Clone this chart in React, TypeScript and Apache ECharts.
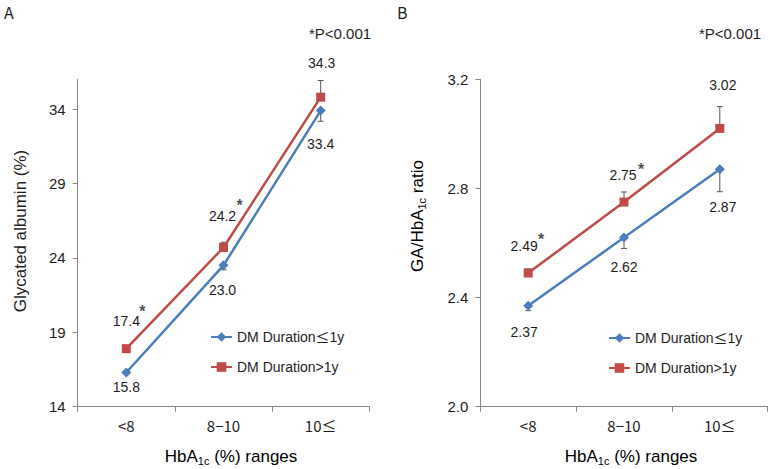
import React, { useEffect, useRef } from "react";
import * as echarts from "echarts";

const categories = ["<8", "8\u221210", "10\u2264"];
const seriesNames = ["DM Duration\u22641y", "DM Duration>1y"];

// Panel A: glycated albumin (%)
const gaShort = [15.8, 23.0, 33.4];
const gaLong = [17.4, 24.2, 34.3];
const gaShortErr = [0.1, 0.3, 0.72];
const gaLongErr = [0.1, 0.35, 1.12];
const gaStars = [true, true, false];
const gaTicks = [13.5, 18.5, 23.5, 28.5, 33.5];

// Panel B: GA/HbA1c ratio
const ratioShort = [2.37, 2.62, 2.87];
const ratioLong = [2.49, 2.75, 3.02];
const ratioShortErr = [0.018, 0.04, 0.082];
const ratioLongErr = [0.015, 0.037, 0.08];
const ratioStars = [true, true, false];

// label placement (layout only)
const offA_short = [[0, 15], [-1, 25], [0, 33]];
const offA_long = [[0, -28], [-1, -31], [1, -34]];
const offB_short = [[-4, 26], [0, 29], [3, 38]];
const offB_long = [[-4, -27], [-1, -27], [3, -43]];
const starOffA = [[16, -37], [16, -42], [0, 0]];
const starOffB = [[13, -34], [17, -33], [0, 0]];

const BLUE = "#4A7EBB";
const RED = "#BE4B48";
const AXIS = "#868686";
const TXT = "#1e1e1e";
const FONT = "'Liberation Sans', Arial, sans-serif";
const KFONT = "'Noto Sans CJK KR', sans-serif";

export default function App() {
  const ref = useRef<HTMLDivElement>(null);
  useEffect(() => {
    const chart = echarts.init(ref.current!, null, { renderer: "svg" });

    const mkLine = (
      name: string,
      vals: number[],
      offs: number[][],
      gi: number,
      color: string,
      symbol: string,
      size: number,
      digits: number
    ) => ({
      type: "line",
      name,
      xAxisIndex: gi,
      yAxisIndex: gi,
      symbol,
      symbolSize: size,
      color,
      z: 3,
      lineStyle: { width: 2.5, color },
      itemStyle: { color },
      data: vals.map((v, i) => ({
        value: v,
        label: {
          show: true,
          position: "inside",
          offset: offs[i],
          formatter: v.toFixed(digits),
          color: TXT,
          fontSize: 14,
          fontFamily: FONT,
        },
      })),
    });

    const mkErr = (vals: number[], errs: number[], dir: number, gi: number) => ({
      type: "custom",
      xAxisIndex: gi,
      yAxisIndex: gi,
      z: 2,
      silent: true,
      data: vals.map((v, i) => [i, v, errs[i], dir]),
      renderItem: (params: any, api: any) => {
        const x = api.value(0);
        const y = api.value(1);
        const e = api.value(2);
        const d = api.value(3);
        const p0 = api.coord([x, y]);
        const p1 = api.coord([x, y + d * e]);
        const st = { stroke: "#555555", lineWidth: 1 };
        return {
          type: "group",
          children: [
            { type: "line", shape: { x1: p0[0], y1: p0[1], x2: p1[0], y2: p1[1] }, style: st },
            { type: "line", shape: { x1: p1[0] - 3, y1: p1[1], x2: p1[0] + 3, y2: p1[1] }, style: st },
          ],
        };
      },
    });

    const mkStars = (vals: number[], stars: boolean[], offs: number[][], gi: number) => ({
      type: "scatter",
      xAxisIndex: gi,
      yAxisIndex: gi,
      symbolSize: 0,
      silent: true,
      data: vals
        .map((v, i) => ({ v, i }))
        .filter((o) => stars[o.i])
        .map((o) => ({
          value: [o.i, o.v],
          label: {
            show: true,
            position: "inside",
            offset: offs[o.i],
            formatter: "*",
            color: TXT,
            fontSize: 16,
            fontWeight: "bold",
            fontFamily: FONT,
          },
        })),
    });

    const xAxisBase = (gi: number) => ({
      type: "category",
      gridIndex: gi,
      data: categories,
      boundaryGap: true,
      axisLine: { lineStyle: { color: AXIS, width: 1 } },
      axisTick: { show: true, length: 5, lineStyle: { color: AXIS } },
      axisLabel: { color: TXT, fontSize: 15, fontFamily: KFONT, margin: 11 },
      splitLine: { show: false },
    });

    const legendBase = (left: number, top: number) => ({
      orient: "vertical",
      left,
      top,
      padding: 0,
      itemWidth: 21,
      itemHeight: 12,
      itemGap: 16,
      data: seriesNames,
      formatter: (n: string) => n.replace("\u2264", "{k|\u2264}"),
      textStyle: {
        fontSize: 14,
        color: TXT,
        fontFamily: FONT,
        rich: { k: { fontSize: 14, fontFamily: KFONT, color: TXT } },
      },
    });

    const subRich = {
      n: { fontSize: 17, lineHeight: 20, color: TXT, fontFamily: FONT },
      s: { fontSize: 11, lineHeight: 10, verticalAlign: "bottom", color: TXT, fontFamily: FONT },
    };

    const option: any = {
      animation: false,
      textStyle: { fontFamily: FONT },
      grid: [
        { left: 77.7, right: 402.7, top: 79.3, bottom: 62.3 },
        { left: 480.3, right: 4.3, top: 79.3, bottom: 62.3 },
      ],
      xAxis: [xAxisBase(0), xAxisBase(1)],
      yAxis: [
        {
          type: "value",
          gridIndex: 0,
          min: 13.5,
          max: 35.5,
          axisLine: { show: true, lineStyle: { color: AXIS } },
          axisTick: { show: true, length: 5, lineStyle: { color: AXIS }, customValues: gaTicks },
          axisLabel: {
            color: TXT,
            fontSize: 15,
            margin: 12,
            customValues: gaTicks,
            formatter: (v: number) => String(Math.round(v + 1e-9)),
          },
          splitLine: { show: false },
        },
        {
          type: "value",
          gridIndex: 1,
          min: 2.0,
          max: 3.2,
          interval: 0.4,
          axisLine: { show: true, lineStyle: { color: AXIS } },
          axisTick: { show: true, length: 5, lineStyle: { color: AXIS } },
          axisLabel: {
            color: TXT,
            fontSize: 15,
            margin: 12,
            formatter: (v: number) => v.toFixed(1),
          },
          splitLine: { show: false },
        },
      ],
      legend: [legendBase(210, 330), legendBase(608, 331)],
      series: [
        mkErr(gaShort, gaShortErr, -1, 0),
        mkErr(gaLong, gaLongErr, 1, 0),
        mkLine(seriesNames[0], gaShort, offA_short, 0, BLUE, "diamond", 10, 1),
        mkLine(seriesNames[1], gaLong, offA_long, 0, RED, "rect", 9, 1),
        mkStars(gaLong, gaStars, starOffA, 0),
        mkErr(ratioShort, ratioShortErr, -1, 1),
        mkErr(ratioLong, ratioLongErr, 1, 1),
        mkLine(seriesNames[0], ratioShort, offB_short, 1, BLUE, "diamond", 10, 2),
        mkLine(seriesNames[1], ratioLong, offB_long, 1, RED, "rect", 9, 2),
        mkStars(ratioLong, ratioStars, starOffB, 1),
      ],
      graphic: [
        { type: "text", x: 4, y: 4, style: { text: "A", fontSize: 16, fontFamily: KFONT, fill: TXT } },
        { type: "text", x: 397, y: 4, style: { text: "B", fontSize: 16, fontFamily: KFONT, fill: TXT } },
        {
          type: "text",
          x: 340,
          y: 33,
          style: { text: "*P<0.001", fontSize: 15, fontFamily: FONT, fill: TXT, align: "center", verticalAlign: "middle" },
        },
        {
          type: "text",
          x: 730,
          y: 33,
          style: { text: "*P<0.001", fontSize: 15, fontFamily: FONT, fill: TXT, align: "center", verticalAlign: "middle" },
        },
        {
          type: "text",
          x: 231,
          y: 456,
          style: { text: "{n|HbA}{s|1c}{n| (%) ranges}", rich: subRich, align: "center", verticalAlign: "middle" },
        },
        {
          type: "text",
          x: 631,
          y: 456,
          style: { text: "{n|HbA}{s|1c}{n| (%) ranges}", rich: subRich, align: "center", verticalAlign: "middle" },
        },
        {
          type: "text",
          x: 20,
          y: 231,
          rotation: Math.PI / 2,
          style: { text: "Glycated albumin (%)", fontSize: 17, fontFamily: FONT, fill: TXT, align: "center", verticalAlign: "middle" },
        },
        {
          type: "text",
          x: 417,
          y: 216,
          rotation: Math.PI / 2,
          style: { text: "{n|GA/HbA}{s|1c}{n| ratio}", rich: subRich, align: "center", verticalAlign: "middle" },
        },
      ],
    };
    chart.setOption(option);
    return () => chart.dispose();
  }, []);
  return (
    <div
      ref={ref}
      style={{ position: "absolute", left: 0, top: 0, width: 772, height: 469, background: "#fff" }}
    />
  );
}
